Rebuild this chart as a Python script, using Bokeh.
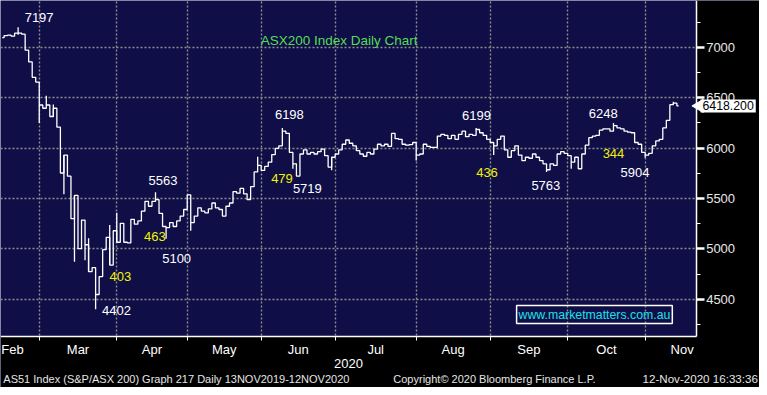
import math
from bokeh.plotting import figure
from bokeh.models import FixedTicker, Label, Range1d
from bokeh.embed import file_html
from bokeh.resources import INLINE

# ---------------- data ----------------
# daily closes of the AS51 index (trading-day index 0 = mid Feb 2020)
close = [
    7095, 7115, 7120, 7110, 7139, 7140, 7130, 6971, 6854, 6702,
    6654, 6427, 6395, 6427, 6313, 6395, 6207, 5753, 5931, 5721,
    5300, 5530, 5002, 5286, 5041, 4775, 4814, 4548, 4726, 4992,
    5115, 4840, 5180, 5066, 5254, 5066, 5060, 5293, 5245, 5277,
    5374, 5472, 5423, 5472, 5488, 5352, 5222, 5212, 5261, 5222,
    5277, 5326, 5391, 5536, 5261, 5326, 5407, 5374, 5358, 5397,
    5455, 5407, 5391, 5326, 5423, 5455, 5569, 5553, 5601, 5546,
    5488, 5617, 5763, 5828, 5779, 5818, 5860, 5935, 5996, 6022,
    6168, 6145, 5957, 5844, 5722, 5941, 5983, 5941, 5957, 5941,
    5964, 5990, 5925, 5812, 5909, 5941, 5983, 6038, 6080, 6048,
    6022, 5974, 5941, 5919, 5957, 5941, 5990, 6038, 6022, 6038,
    6016, 6145, 6093, 6087, 6038, 6029, 6035, 6055, 5931, 5941,
    6038, 6016, 6006, 6006, 6119, 6136, 6126, 6093, 6126, 6087,
    6136, 6168, 6113, 6136, 6126, 6184, 6152, 6126, 6087, 6055,
    6022, 6087, 6119, 5983, 5909, 5974, 6022, 5931, 5876, 5909,
    5899, 5941, 5909, 5876, 5844, 5785, 5844, 5828, 5941, 5964,
    5948, 5925, 5860, 5909, 5795, 5941, 6029, 6103, 6119, 6126,
    6178, 6191, 6191, 6168, 6223, 6200, 6191, 6168, 6158, 6152,
    6055, 6038, 5957, 5931, 5948, 6022, 6071, 6087, 6200, 6275,
    6430, 6445, 6418,
]

# intraday extremes that stick out of the step line
wick_day  = [5, 11, 13, 15, 18, 21, 24, 25, 27, 31, 33, 44, 47, 54, 73, 80, 83, 94, 118, 135, 140, 155, 162, 174, 183, 191]
wick_low  = [7125, 6249, 6427, 6313, 5543, 4872, 4888, 4775, 4402, 4840, 5066, 5488, 5100, 5180, 5828, 6168, 5795, 5779, 5876, 6184, 5931, 5763, 5795, 6223, 5904, 6430]
wick_high = [7197, 6427, 6518, 6433, 5931, 5530, 5041, 5105, 4548, 5238, 5358, 5563, 5212, 5261, 5915, 6198, 5844, 5909, 5931, 6199, 6022, 5785, 5860, 6248, 5931, 6460]

months = ["Feb", "Mar", "Apr", "May", "Jun", "Jul", "Aug", "Sep", "Oct", "Nov"]
month_days = [20, 22, 20, 21, 21, 23, 21, 22, 22, 21]   # trading days per month
feb_start = -9                                           # index of first Feb trading day
year_label = "2020"

y_major = [4500, 5000, 5500, 6000, 6500, 7000]
y_minor = [4250, 4750, 5250, 5750, 6250, 6750, 7250]

white_notes = ["7197", "6198", "6199", "6248", "5563", "5719", "5763", "5904", "5100", "4402"]
yellow_notes = ["403", "463", "479", "436", "344"]
last_price = "6418.200"

# ---------------- layout ----------------
NAVY = "#0f0e47"
FONT = "Liberation Sans"
X_END, Y_TOP, Y_END = 215.45, 7463.5, 3625.5     # whole canvas in data units
PLOT_RIGHT, PLOT_BOTTOM = 197.47, 4131            # edges of the chart panel

white_pos = [(10.96, 7298), (82.0, 6336), (135.1, 6327), (171.1, 6346), (46.1, 5676),
             (87.1, 5598), (154.8, 5627), (180.1, 5753), (50.0, 4908), (32.9, 4393)]
yellow_pos = [(34.0, 4723), (43.8, 5122), (79.9, 5695), (138.1, 5753), (174.0, 5951)]

starts = [feb_start]
for d in month_days[:-1]:
    starts.append(starts[-1] + d)
ends = [s + d for s, d in zip(starts, month_days)]
label_pos = [max((s + e) / 2, 3.4) for s, e in zip(starts, ends)]
boundaries = starts[1:]

x = [i + 0.5 for i in range(len(close))]

p = figure(width=759, height=387,
           x_range=Range1d(0, X_END), y_range=Range1d(Y_END, Y_TOP),
           y_axis_location="right", output_backend="svg", toolbar_location=None,
           min_border=0, background_fill_color=NAVY, border_fill_color="black",
           outline_line_color=None)

# grid
p.xgrid.ticker = FixedTicker(ticks=boundaries)
for g in (p.xgrid, p.ygrid):
    g.grid_line_color = "#8e8e8e"
    g.grid_line_dash = "2 2"
    g.grid_line_width = 1.4

# black margins around the chart panel
p.quad(left=[PLOT_RIGHT, 0], right=[X_END, PLOT_RIGHT], bottom=[Y_END, Y_END],
       top=[Y_TOP, PLOT_BOTTOM], fill_color="black", line_color=None)

# x axis
xa = p.xaxis[0]
xa.fixed_location = PLOT_BOTTOM
xa.bounds = (0, PLOT_RIGHT)
xa.ticker = FixedTicker(ticks=label_pos, minor_ticks=boundaries)
xa.major_label_overrides = {lp: m for lp, m in zip(label_pos, months)}
xa.axis_line_color = "white"
xa.axis_line_width = 1.5
xa.major_tick_line_color = None
xa.major_tick_out = 0
xa.major_tick_in = 0
xa.minor_tick_line_color = "white"
xa.minor_tick_out = 4
xa.minor_tick_in = 0
xa.major_label_text_color = "white"
xa.major_label_text_font = FONT
xa.major_label_text_font_size = "13px"
xa.major_label_standoff = 1

# y axis
ya = p.yaxis[0]
ya.fixed_location = PLOT_RIGHT
ya.bounds = (PLOT_BOTTOM, Y_TOP)
ya.ticker = FixedTicker(ticks=y_major, minor_ticks=y_minor)
ya.axis_line_color = "white"
ya.axis_line_width = 1.5
ya.major_tick_line_color = "white"
ya.major_tick_line_width = 2.5
ya.major_tick_out = 8
ya.major_tick_in = 0
ya.minor_tick_line_color = "white"
ya.minor_tick_out = 4
ya.minor_tick_in = 0
ya.major_label_text_color = "#e8e8e8"
ya.major_label_text_font = FONT
ya.major_label_text_font_size = "13px"
ya.major_label_standoff = 2

# price path
p.step(x, close, mode="center", line_color="white", line_width=1.3)
p.segment(x0=wick_day, y0=wick_low, x1=wick_day, y1=wick_high, line_color="white", line_width=1.3)

def note(tx, xx, yy, color, size="13px", align="center", **kw):
    p.add_layout(Label(x=xx, y=yy, text=tx, text_color=color, text_font=FONT,
                       text_font_size=size, text_align=align,
                       text_baseline="middle", **kw))

for t, (xx, yy) in zip(white_notes, white_pos):
    note(t, xx, yy, "white")
for t, (xx, yy) in zip(yellow_notes, yellow_pos):
    note(t, xx, yy, "#f2f200")

note("ASX200 Index Daily Chart", 96.1, 7065, "#55dd55", size="13.5px")
note("www.marketmatters.com.au", 168.6, 4349, "#1ee0e8", size="12.3px",
     border_line_color="white", border_line_width=1.5, padding=2)
note(year_label, 98.8, 3868, "white")

# last price tag
p.scatter(x=[198.4], y=[float(last_price)], marker="triangle", size=13, angle=math.pi / 2,
          fill_color="white", line_color="white")
note(last_price, 198.7, float(last_price), "black", size="12.3px", align="left",
     background_fill_color="white", padding=2)

# footer
note("AS51 Index (S&P/ASX 200) Graph 217  Daily 13NOV2019-12NOV2020", 0.8, 3713, "#e6e6e6", size="11px", align="left")
note("Copyright\u00a9 2020 Bloomberg Finance L.P.", 111.5, 3713, "#e6e6e6", size="11px", align="left")
note("12-Nov-2020 16:33:36", 215.0, 3713, "#e6e6e6", size="11.6px", align="right")

open("out.html", "w").write(file_html(p, INLINE))
